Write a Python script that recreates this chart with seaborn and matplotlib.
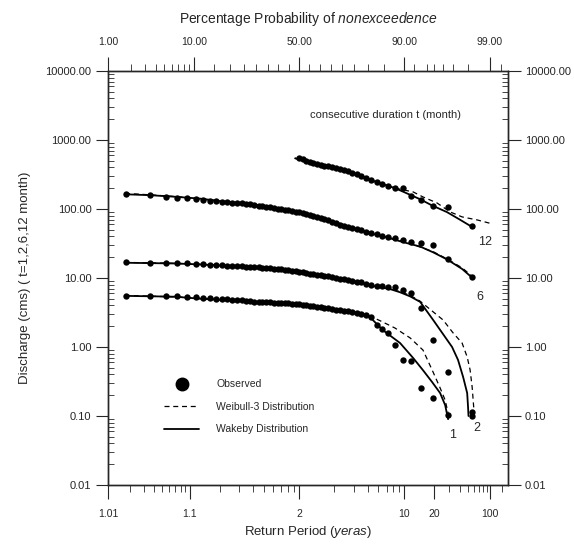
import math

import matplotlib
matplotlib.use("Agg")
import matplotlib.pyplot as plt
import numpy as np
import seaborn as sns
from matplotlib.lines import Line2D
from matplotlib.ticker import FixedLocator, NullFormatter


# return period (years) of the ranked observations, rank 1..57
RETURN_PERIOD = [
    1.0175, 1.0357, 1.0545, 1.0741, 1.0943, 1.1154, 1.1373, 1.1600, 1.1837, 1.2083,
    1.2340, 1.2609, 1.2889, 1.3182, 1.3488, 1.3810, 1.4146, 1.4500, 1.4872, 1.5263,
    1.5676, 1.6111, 1.6571, 1.7059, 1.7576, 1.8125, 1.8710, 1.9333, 2.0000, 2.0714,
    2.1481, 2.2308, 2.3200, 2.4167, 2.5217, 2.6364, 2.7619, 2.9000, 3.0526, 3.2222,
    3.4118, 3.6250, 3.8667, 4.1429, 4.4615, 4.8333, 5.2727, 5.8000, 6.4444, 7.2500,
    8.2857, 9.6667, 11.600, 14.500, 19.333, 29.000, 58.000,
]

OBS_T1 = [
    5.5, 5.5, 5.45, 5.4, 5.35, 5.3, 5.2, 5.1, 5.0, 4.95,
    4.9, 4.85, 4.8, 4.75, 4.7, 4.6, 4.55, 4.5, 4.48, 4.45,
    4.42, 4.4, 4.37, 4.35, 4.3, 4.27, 4.24, 4.21, 4.18, 4.1,
    4.0, 3.95, 3.88, 3.8, 3.75, 3.7, 3.65, 3.55, 3.48, 3.42,
    3.35, 3.28, 3.2, 3.15, 3.05, 2.9, 2.7, 2.08, 1.85, 1.6,
    1.07, 0.65, 0.63, 0.255, 0.18, 0.103, 0.10,
]
OBS_T2 = [
    16.8, 16.6, 16.5, 16.3, 16.2, 16.0, 15.8, 15.6, 15.4, 15.3,
    15.1, 15.0, 14.9, 14.7, 14.6, 14.5, 14.4, 14.2, 14.0, 13.9,
    13.8, 13.7, 13.5, 13.3, 13.1, 12.9, 12.7, 12.5, 12.2, 12.0,
    11.8, 11.6, 11.4, 11.2, 11.0, 10.8, 10.5, 10.3, 10.1, 9.8,
    9.6, 9.3, 9.0, 8.8, 8.6, 8.3, 7.9, 7.7, 7.6, 7.5,
    7.4, 6.6, 6.07, 3.67, 1.26, 0.434, 0.114,
]
OBS_T6 = [
    165, 160, 150, 146, 143, 140, 136, 132, 129, 126,
    124, 123, 121, 120, 118, 117, 114, 112, 110, 108,
    105, 103, 101, 99, 97, 95, 93, 91, 89, 88,
    85, 82, 79, 76, 73, 71, 68, 65, 62, 59,
    57, 55, 53, 51, 49, 47, 44.5, 43, 41, 39.5,
    38, 35.5, 33, 32, 30, 18.8, 10.3,
]
# the 12-month series is only drawn from rank 29 upward
OBS_T12 = [
    540, 520, 500, 480, 462, 447, 434, 425, 415, 405,
    396, 385, 370, 352, 335, 318, 300, 280, 262, 245,
    230, 215, 202, 200, 154, 135, 110, 108, 57,
]

# fitted curves: return period and discharge
WEIBULL_T1_T = [1.0172, 1.07, 1.128, 1.379, 2.01, 3.24, 4.38, 5.17, 6.19, 8.26, 11.4, 15.3, 19.6, 23.4, 26.7, 28.9]
WEIBULL_T1_Q = [5.6, 5.3, 5.1, 4.6, 4.15, 3.5, 3.1, 2.8, 2.4, 1.88, 1.35, 0.9, 0.43, 0.255, 0.17, 0.11]
WAKEBY_T1_T = [1.0172, 1.07, 1.128, 1.379, 2.01, 3.24, 4.38, 5.17, 6.5, 9.17, 12.2, 15.3, 19.1, 23.4, 26.7, 28.9]
WAKEBY_T1_Q = [5.5, 5.35, 5.0, 4.55, 4.15, 3.45, 3.05, 2.7, 1.76, 1.14, 0.69, 0.46, 0.31, 0.215, 0.144, 0.09]

WEIBULL_T2_T = [1.0172, 1.07, 1.128, 1.225, 1.379, 1.625, 2.01, 2.51, 3.24, 4.38, 5.17, 7.49, 9.17, 11.4,
                14.3, 16.9, 25.3, 33.1, 42.7, 49.5, 54, 57.4, 59.2, 61]
WEIBULL_T2_Q = [16.8, 16.3, 15.8, 15.1, 14.4, 13.5, 12.2, 11.0, 9.9, 8.6, 7.9, 7.0, 6.3, 5.6,
                4.6, 3.8, 2.46, 1.6, 1.14, 0.717, 0.465, 0.263, 0.17, 0.11]
WAKEBY_T2_T = [1.0172, 1.07, 1.128, 1.225, 1.379, 1.625, 2.01, 2.51, 3.24, 4.38, 5.17, 7.49, 9.17, 11.4,
               14.3, 19.6, 32.2, 38, 44, 49.5, 50.8, 51.5]
WAKEBY_T2_Q = [16.6, 16.2, 15.7, 15.0, 14.4, 13.4, 12.2, 11.0, 9.8, 8.6, 7.8, 6.9, 6.2, 5.4,
               4.5, 2.46, 1.0, 0.65, 0.367, 0.215, 0.135, 0.1]

WEIBULL_T6_T = [1.0172, 1.036, 1.07, 1.128, 1.225, 1.379, 1.625, 2.01, 2.51, 3.24, 4.38, 5.17, 7.49, 9.17,
                11.4, 14.3, 19.6, 28.2, 42.7, 59.2]
WEIBULL_T6_Q = [168, 160, 151, 140, 128, 117, 104, 89, 74, 61, 50, 45, 38, 35, 31.5, 28, 24, 18.8, 14, 10.3]
WAKEBY_T6_T = WEIBULL_T6_T
WAKEBY_T6_Q = [163, 158, 150, 141, 127, 118, 104, 88, 75, 61, 49, 44.5, 37.5, 34, 31, 28.5, 23.5, 18.5, 13.5, 9.8]

WEIBULL_T12_T = [1.925, 2.51, 3.11, 3.92, 5.17, 8.26, 12.2, 15.3, 21.6, 30.5, 42.7, 66.7, 100]
WEIBULL_T12_Q = [545, 440, 390, 335, 265, 200, 176, 149, 122, 90.5, 76.6, 69.3, 62]
WAKEBY_T12_T = [1.925, 2.51, 3.11, 3.92, 5.17, 8.26, 11.4, 14.3, 19.1, 28, 40, 54, 60]
WAKEBY_T12_Q = [540, 435, 392, 332, 263, 200, 160, 138, 112, 90, 70, 57, 53]

Y_TICKS = [0.01, 0.1, 1, 10, 100, 1000, 10000]
BOTTOM_TICKS = [1.01, 1.1, 2, 10, 20, 100]
BOTTOM_LABELS = ["1.01", "1.1", "2", "10", "20", "100"]
BOTTOM_MINOR = [1.02, 1.03, 1.04, 1.05, 1.06, 1.07, 1.08, 1.09, 1.2, 1.3, 1.4, 1.5, 1.6, 1.7,
                1.8, 1.9, 3, 4, 5, 6, 7, 8, 9, 30, 40, 50, 60, 70, 80, 90, 150]
TOP_PERCENT = [1, 10, 50, 90, 99]
TOP_MINOR_PERCENT = [2, 3, 4, 5, 6, 7, 8, 9, 15, 20, 25, 30, 35, 40, 45, 55, 60, 65, 70,
                     75, 80, 85, 92, 94, 95, 96, 97, 98, 99.3]

# normal probability paper: return period -> standard normal variate
Z_GRID = np.linspace(-6, 6, 3001)
LOGQ_GRID = np.log([0.5 * math.erfc(z / math.sqrt(2)) for z in Z_GRID])
erfc_vec = np.vectorize(math.erfc, otypes=[float])


def period_to_z(t):
    t = np.asarray(t, dtype=float)
    q = np.clip(1.0 / np.where(t > 1, t, 1.0 + 1e-9), 1e-9, 1 - 1e-9)
    return np.interp(np.log(q), LOGQ_GRID[::-1], Z_GRID[::-1])


def z_to_period(z):
    z = np.asarray(z, dtype=float)
    q = 0.5 * erfc_vec(z / math.sqrt(2))
    return 1.0 / np.clip(q, 1e-300, None)


def percent_to_period(p):
    return [100.0 / (100.0 - v) for v in p]


sns.set_style("ticks")
plt.rcParams["font.family"] = ["Liberation Sans", "DejaVu Sans"]
plt.rcParams["mathtext.fontset"] = "custom"
plt.rcParams["mathtext.rm"] = "Liberation Sans"
plt.rcParams["mathtext.it"] = "Liberation Sans:italic"

fig = plt.figure(figsize=(5.74, 5.45), dpi=100)
ax = fig.add_axes([0.1882, 0.110, 0.697, 0.760])
ax.set_xscale("function", functions=(period_to_z, z_to_period))
ax.set_yscale("log")

dash = (0, (4, 3))
curves = [
    (WEIBULL_T1_T, WEIBULL_T1_Q, WAKEBY_T1_T, WAKEBY_T1_Q),
    (WEIBULL_T2_T, WEIBULL_T2_Q, WAKEBY_T2_T, WAKEBY_T2_Q),
    (WEIBULL_T6_T, WEIBULL_T6_Q, WAKEBY_T6_T, WAKEBY_T6_Q),
    (WEIBULL_T12_T, WEIBULL_T12_Q, WAKEBY_T12_T, WAKEBY_T12_Q),
]
for wb_t, wb_q, wk_t, wk_q in curves:
    sns.lineplot(x=wb_t, y=wb_q, ax=ax, color="black", lw=0.9, linestyle=dash,
                 estimator=None, sort=False)
    sns.lineplot(x=wk_t, y=wk_q, ax=ax, color="black", lw=1.3,
                 estimator=None, sort=False)

observed = [
    (RETURN_PERIOD, OBS_T1),
    (RETURN_PERIOD, OBS_T2),
    (RETURN_PERIOD, OBS_T6),
    (RETURN_PERIOD[28:], OBS_T12),
]
for obs_t, obs_q in observed:
    sns.scatterplot(x=obs_t, y=obs_q, ax=ax, color="black", s=21, linewidth=0, legend=False)

ax.set_xlim(1.01, 185)
ax.set_ylim(0.01, 10000)

ax.set_xticks(BOTTOM_TICKS, BOTTOM_LABELS)
ax.xaxis.set_minor_locator(FixedLocator(BOTTOM_MINOR))
ax.xaxis.set_minor_formatter(NullFormatter())
ax.set_yticks(Y_TICKS, [f"{v:.2f}" for v in Y_TICKS])
ax.yaxis.set_minor_formatter(NullFormatter())

ax.tick_params(axis="x", which="major", direction="out", length=10, width=0.8, pad=7, labelsize=7.5)
ax.tick_params(axis="x", which="minor", direction="out", length=5, width=0.6)
ax.tick_params(axis="y", which="major", direction="out", length=9, width=0.8, pad=3, labelsize=8,
               left=True, right=True, labelleft=True, labelright=True)
ax.tick_params(axis="y", which="minor", direction="in", length=4, width=0.6, left=True, right=True)

ax.set_xlabel("Return Period ($\\it{yeras}$)", fontsize=9.5, labelpad=4)
ax.set_ylabel("Discharge (cms) ( t=1,2,6,12 month)", fontsize=9.5, labelpad=10)

top = ax.twiny()
top.set_xscale("function", functions=(period_to_z, z_to_period))
top.set_xlim(ax.get_xlim())
top.set_xticks(percent_to_period(TOP_PERCENT), [f"{p:.2f}" for p in TOP_PERCENT])
top.xaxis.set_minor_locator(FixedLocator(percent_to_period(TOP_MINOR_PERCENT)))
top.xaxis.set_minor_formatter(NullFormatter())
top.tick_params(axis="x", which="major", direction="out", length=10, width=0.8, pad=7, labelsize=7.5)
top.tick_params(axis="x", which="minor", direction="out", length=5, width=0.6)
top.set_xlabel("Percentage Probability of $\\it{nonexceedence}$", fontsize=10, labelpad=10)

for side in ["top", "bottom", "left", "right"]:
    ax.spines[side].set_linewidth(1.0)
    top.spines[side].set_linewidth(1.0)

ax.text(0.505, 0.894, "consecutive duration t (month)", transform=ax.transAxes,
        fontsize=8, ha="left", va="center")
ax.text(0.9425, 0.587, "12", transform=ax.transAxes, fontsize=9, ha="center", va="center")
ax.text(0.93, 0.454, "6", transform=ax.transAxes, fontsize=9, ha="center", va="center")
ax.text(0.86, 0.121, "1", transform=ax.transAxes, fontsize=9, ha="center", va="center")
ax.text(0.9225, 0.138, "2", transform=ax.transAxes, fontsize=9, ha="center", va="center")

handles = [
    Line2D([], [], marker="o", color="black", linestyle="none", markersize=9),
    Line2D([], [], color="black", lw=0.9, linestyle=dash),
    Line2D([], [], color="black", lw=1.3),
]
labels = ["Observed", "Weibull-3 Distribution", "Wakeby Distribution"]
ax.legend(handles, labels, loc="upper left", bbox_to_anchor=(0.14, 0.255), frameon=False,
          fontsize=7.5, handlelength=3.4, handletextpad=1.6, labelspacing=1.2,
          borderpad=0, borderaxespad=0)

fig.savefig("out.png", dpi=100)
